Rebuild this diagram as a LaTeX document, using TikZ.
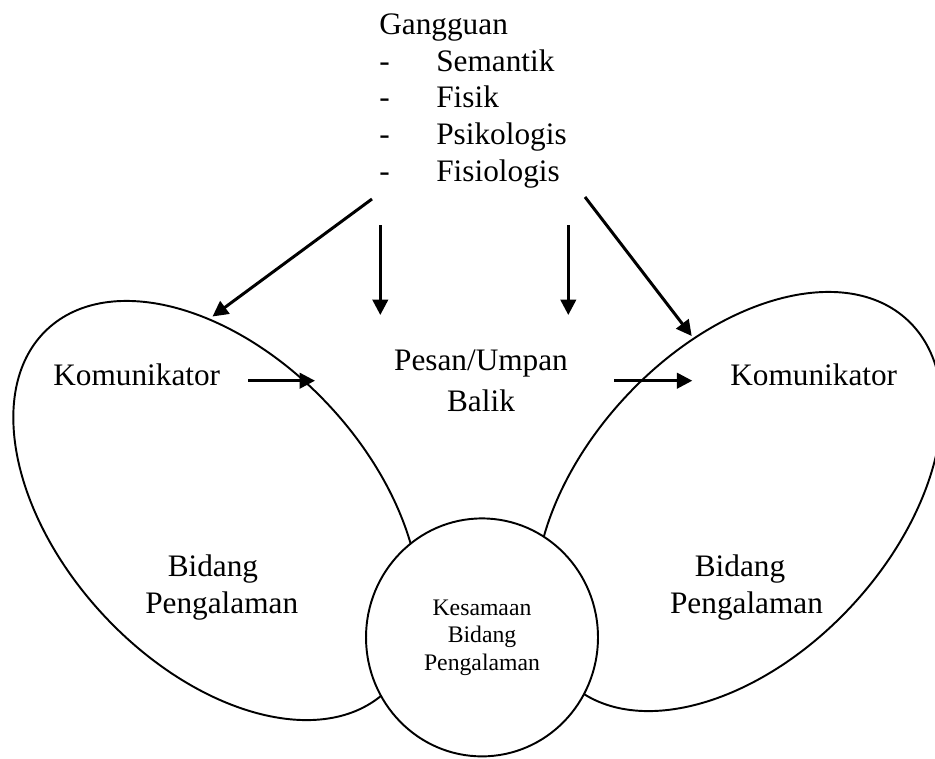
\documentclass[tikz,border=0pt]{standalone}
\usepackage{fontspec}
\setmainfont{Liberation Serif}
\usetikzlibrary{arrows.meta,shapes.geometric}
\tikzset{
  field/.style={ellipse,draw,line width=1.1pt,inner sep=0pt,
                minimum width=9.92cm,minimum height=6.16cm},
  overlap/.style={ellipse,draw,fill=white,line width=1.1pt,inner sep=0pt,
                minimum width=4.64cm,minimum height=4.76cm,align=center,
                font=\fontsize{13.5}{15.6}\selectfont},
  lbl/.style={inner sep=0pt,font=\fontsize{17.8}{20.8}\selectfont},
  pointer/.style={-{Triangle[length=8.8pt,width=8.8pt]},line width=1.7pt},
}

\begin{document}
\begin{tikzpicture}[x=0.02cm,y=-0.02cm]
  \useasboundingbox (0,0) rectangle (935,758);
  % bidang pengalaman
  \node[field,rotate=-47] (left) at (216.5,510.5) {};
  \node[field,rotate=47] (right) at (738.5,501.5) {};
  \node[overlap,anchor=base] (common) at (482,670)
    {Kesamaan\\Bidang\\Pengalaman};
  % teks (base = baris terakhir)
  \node[lbl,align=left,anchor=base west] (noise) at (379,181)
    {Gangguan\\
     \makebox[1.14cm][l]{-}Semantik\\
     \makebox[1.14cm][l]{-}Fisik\\
     \makebox[1.14cm][l]{-}Psikologis\\
     \makebox[1.14cm][l]{-}Fisiologis};
  \node[lbl,anchor=base west] (sender) at (53,385) {Komunikator};
  \node[lbl,anchor=base west] (receiver) at (730,385) {Komunikator};
  \node[lbl,align=center,anchor=base,
        font=\fontsize{17.8}{23.6}\selectfont] (msg) at (481,411.7)
    {Pesan/Umpan\\Balik};
  \node[lbl,align=center,anchor=base] (expL) at (221.7,613.3)
    {Bidang\hspace*{0.35cm}\\Pengalaman};
  \node[lbl,align=center,anchor=base] (expR) at (746.5,613.3)
    {Bidang\hspace*{0.26cm}\\Pengalaman};
  % ujung panah
  \coordinate (n1) at (372,199);   \coordinate (t1) at (212.5,316.5);
  \coordinate (n2) at (380.3,225); \coordinate (t2) at (380.3,315);
  \coordinate (n3) at (568.3,225); \coordinate (t3) at (568.3,315);
  \coordinate (n4) at (585,197);   \coordinate (t4) at (691.7,336);
  \coordinate (s1) at (248.3,380.7); \coordinate (e1) at (315,380.7);
  \coordinate (s2) at (614.3,380.7); \coordinate (e2) at (692.3,380.7);
  \draw[pointer] (n1) -- (t1);
  \draw[pointer] (n2) -- (t2);
  \draw[pointer] (n3) -- (t3);
  \draw[pointer] (n4) -- (t4);
  \draw[pointer] (s1) -- (e1);
  \draw[pointer] (s2) -- (e2);
\end{tikzpicture}
\end{document}
